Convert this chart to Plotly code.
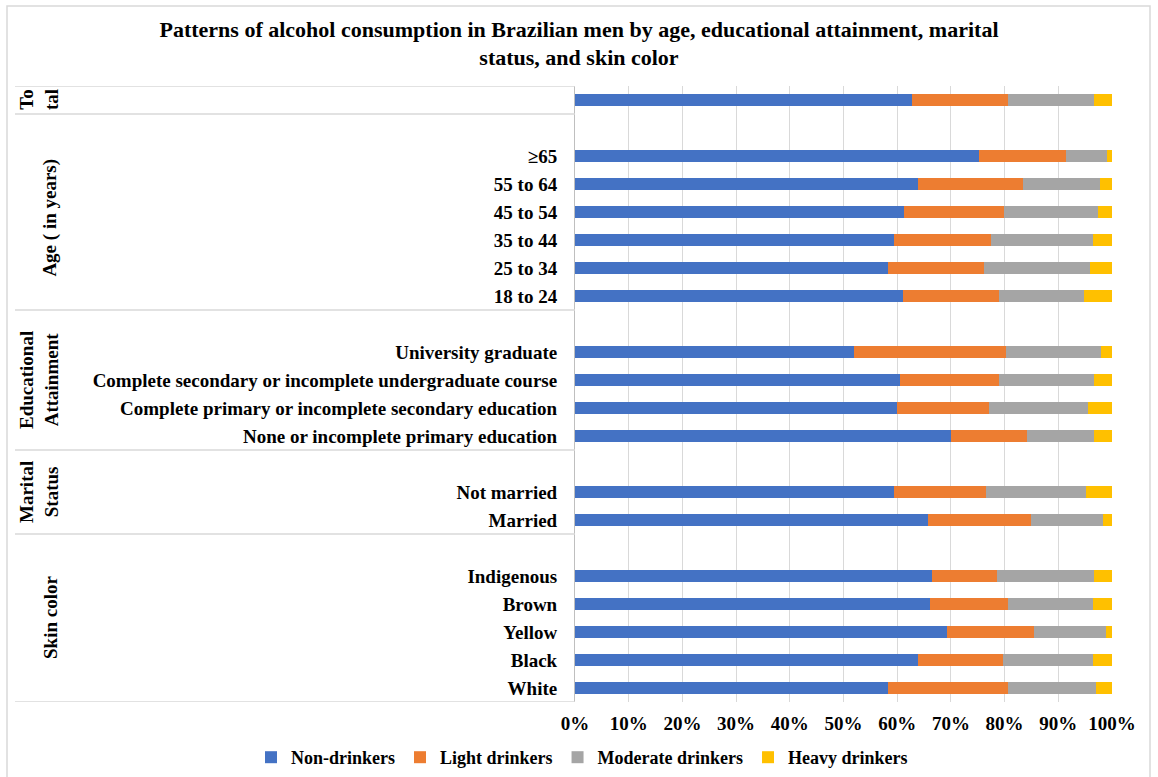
import plotly.graph_objects as go

# Rows top-to-bottom; None marks an empty spacer row
row_labels = ["", None, "≥65", "55 to 64", "45 to 54", "35 to 44", "25 to 34", "18 to 24",
              None, "University graduate",
              "Complete secondary or incomplete undergraduate course",
              "Complete primary or incomplete secondary education",
              "None or incomplete primary education",
              None, "Not married", "Married",
              None, "Indigenous", "Brown", "Yellow", "Black", "White"]

non_drinkers = [62.7, None, 75.3, 63.9, 61.3, 59.4, 58.3, 61.1,
                None, 51.9, 60.5, 59.9, 70.1,
                None, 59.4, 65.8,
                None, 66.5, 66.1, 69.3, 63.9, 58.3]
light_drinkers = [18.0, None, 16.1, 19.6, 18.6, 18.1, 17.9, 17.9,
                  None, 28.4, 18.5, 17.2, 14.0,
                  None, 17.2, 19.2,
                  None, 12.0, 14.6, 16.2, 15.8, 22.4]
moderate_drinkers = [16.0, None, 7.6, 14.2, 17.4, 18.9, 19.7, 15.7,
                     None, 17.6, 17.7, 18.4, 12.6,
                     None, 18.5, 13.4,
                     None, 18.2, 15.7, 13.4, 16.7, 16.4]
heavy_drinkers = [3.3, None, 1.0, 2.3, 2.7, 3.6, 4.1, 5.3,
                  None, 2.1, 3.3, 4.5, 3.3,
                  None, 4.9, 1.6,
                  None, 3.3, 3.6, 1.1, 3.6, 2.9]

series_names = ["Non-drinkers", "Light drinkers", "Moderate drinkers", "Heavy drinkers"]
series_values = [non_drinkers, light_drinkers, moderate_drinkers, heavy_drinkers]
series_colors = ["#4472C4", "#ED7D31", "#A5A5A5", "#FFC000"]

# Groups: (label, first row index, last row index, label row position)
groups = [("To<br>tal", 0, 0, 0.0), ("Age ( in years)", 1, 7, 4.2),
          ("Educational<br>Attainment", 8, 12, 10.0), ("Marital<br>Status", 13, 15, 14.0),
          ("Skin color", 16, 21, 18.5)]

x_ticks = [0, 10, 20, 30, 40, 50, 60, 70, 80, 90, 100]

FONT = "Liberation Serif"
W, H = 1158, 777
ML, MR, MT, MB = 575, 46, 86, 75
PW = W - ML - MR
PH = H - MT - MB

ys = list(range(len(row_labels)))
fig = go.Figure()
for name, vals, col in zip(series_names, series_values, series_colors):
    yy = [y for y, v in zip(ys, vals) if v is not None]
    xx = [v for v in vals if v is not None]
    fig.add_trace(go.Bar(x=xx, y=yy, orientation="h", name=name,
                         marker=dict(color=col, line=dict(width=0))))

def px_to_paper_x(px):
    return (px - ML) / PW

def px_to_paper_y(py):
    return (H - MB - py) / PH

shapes = []
# group separators
bounds = [-0.5] + [g[2] + 0.5 for g in groups]
for b in bounds:
    shapes.append(dict(type="line", xref="paper", yref="y",
                       x0=px_to_paper_x(15), x1=0, y0=b, y1=b,
                       line=dict(color="#D9D9D9", width=1.5)))
# outer chart border
shapes.append(dict(type="rect", xref="paper", yref="paper",
                   x0=px_to_paper_x(7), x1=px_to_paper_x(1150),
                   y0=px_to_paper_y(800), y1=px_to_paper_y(6),
                   line=dict(color="#D9D9D9", width=1.5), fillcolor="rgba(0,0,0,0)"))

annotations = []
for label, a, b, ypos in groups:
    two = "<br>" in label
    xc = 39 if two else 50
    annotations.append(dict(text=label, xref="paper", yref="y",
                            x=px_to_paper_x(xc), y=ypos,
                            textangle=-90, showarrow=False, xanchor="center", yanchor="middle",
                            font=dict(family=FONT, size=19, color="black", weight="bold")))

fig.update_layout(
    width=W, height=H,
    margin=dict(l=ML, r=MR, t=MT, b=MB, autoexpand=False),
    paper_bgcolor="white", plot_bgcolor="white",
    barmode="stack", bargap=0.56,
    title=dict(text="Patterns of alcohol consumption in Brazilian men by age, educational attainment, marital<br>status, and skin color",
               x=0.5, xanchor="center", y=0.953, yanchor="top",
               font=dict(family=FONT, size=22, color="black", weight="bold")),
    xaxis=dict(range=[0, 100], tickvals=x_ticks, ticktext=[f"{t}%" for t in x_ticks],
               showgrid=True, gridcolor="#D9D9D9", gridwidth=1, zeroline=False,
               showline=False, ticks="", ticklabelstandoff=8,
               tickfont=dict(family=FONT, size=19, color="black", weight="bold")),
    yaxis=dict(range=[len(row_labels) - 0.5, -0.5], tickvals=ys,
               ticktext=[l if l else "" for l in row_labels],
               showgrid=False, zeroline=False, showline=True, linecolor="#BFBFBF", linewidth=1,
               ticks="", ticklabelstandoff=13,
               tickfont=dict(family=FONT, size=19, color="black", weight="bold")),
    legend=dict(orientation="h", x=px_to_paper_x(251), xanchor="left",
                y=px_to_paper_y(739), yanchor="top", traceorder="normal",
                font=dict(family=FONT, size=18, color="black", weight="bold"),
                itemwidth=30, bgcolor="rgba(0,0,0,0)"),
    shapes=shapes, annotations=annotations,
)
fig.write_html("out.html")
